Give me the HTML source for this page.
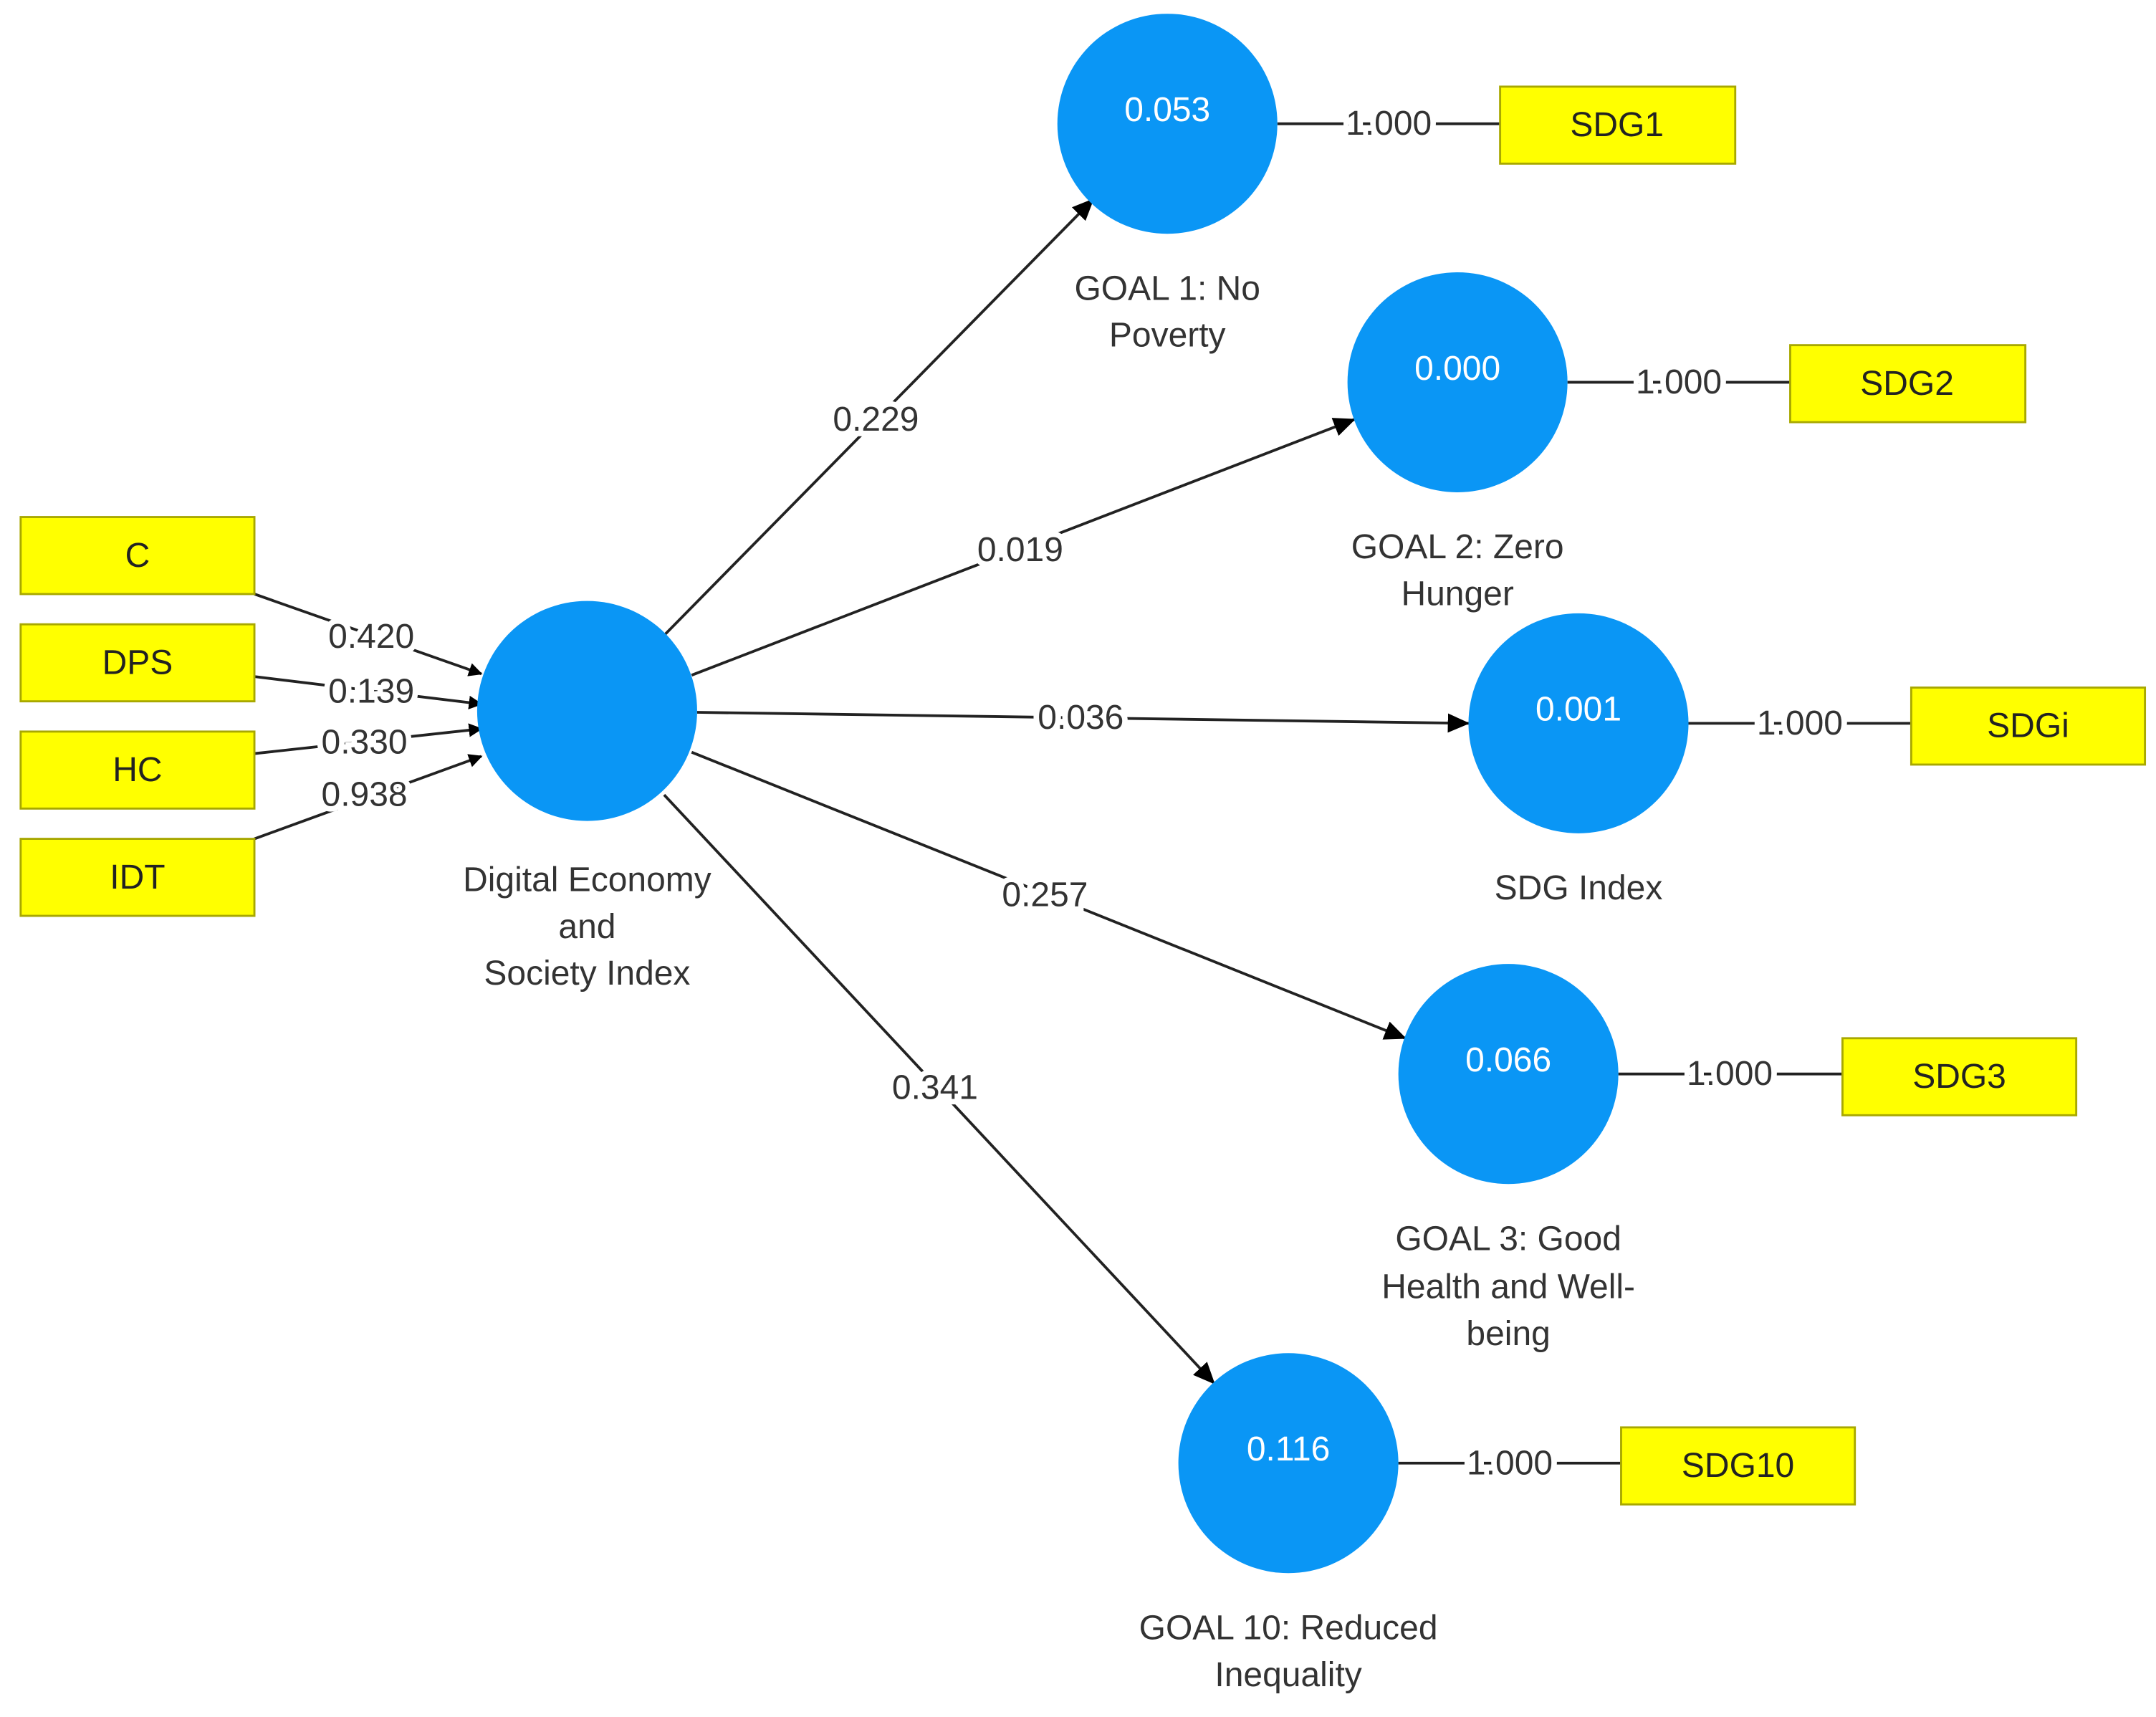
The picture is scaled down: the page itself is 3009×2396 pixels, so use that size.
<!DOCTYPE html>
<html><head><meta charset="utf-8"><style>
html,body{margin:0;padding:0;background:#fff;}
svg{display:block;}
text{font-family:"Liberation Sans",sans-serif;}
</style></head><body>
<svg width="3009" height="2396" viewBox="0 0 1568 1248.6" xmlns="http://www.w3.org/2000/svg">
<defs>
<marker id="a" markerWidth="10" markerHeight="10" refX="9" refY="5" orient="auto" markerUnits="userSpaceOnUse"><path d="M0,0 L10,5 L0,10 z" fill="#000"/></marker>
<marker id="b" markerWidth="16" markerHeight="14" refX="15" refY="7" orient="auto" markerUnits="userSpaceOnUse"><path d="M0,0 L16,7 L0,14 z" fill="#000"/></marker>
</defs>
<rect width="1568" height="1249" fill="#fff"/>
<g stroke="#222" stroke-width="2" fill="none">
<line x1="185" y1="432" x2="350" y2="490" marker-end="url(#a)"/>
<line x1="185" y1="492" x2="350" y2="512" marker-end="url(#a)"/>
<line x1="185" y1="548" x2="350" y2="530" marker-end="url(#a)"/>
<line x1="185" y1="610" x2="350" y2="550" marker-end="url(#a)"/>
<line x1="483" y1="462" x2="795" y2="145" marker-end="url(#b)"/>
<line x1="503" y1="491" x2="985" y2="305" marker-end="url(#b)"/>
<line x1="507" y1="518" x2="1068" y2="526" marker-end="url(#b)"/>
<line x1="503" y1="547" x2="1022" y2="755" marker-end="url(#b)"/>
<line x1="483" y1="578" x2="883" y2="1006" marker-end="url(#b)"/>
<line x1="929" y1="90" x2="1091" y2="90"/>
<line x1="1140" y1="278" x2="1302" y2="278"/>
<line x1="1228" y1="526" x2="1390" y2="526"/>
<line x1="1177" y1="781" x2="1340" y2="781"/>
<line x1="1017" y1="1064" x2="1179" y2="1064"/>
</g>
<g fill="#FFFF00" stroke="#a8a800" stroke-width="1.5">
<rect x="15" y="376" width="170" height="56"/>
<rect x="15" y="454" width="170" height="56"/>
<rect x="15" y="532" width="170" height="56"/>
<rect x="15" y="610" width="170" height="56"/>
<rect x="1091" y="63" width="171" height="56"/>
<rect x="1302" y="251" width="171" height="56"/>
<rect x="1390" y="500" width="170" height="56"/>
<rect x="1340" y="755" width="170" height="56"/>
<rect x="1179" y="1038" width="170" height="56"/>
</g>
<g font-size="25" fill="#222" text-anchor="middle" dominant-baseline="central">
<text x="100" y="404">C</text><text x="100" y="482">DPS</text><text x="100" y="560">HC</text><text x="100" y="638">IDT</text>
<text x="1176" y="91">SDG1</text><text x="1387" y="279">SDG2</text><text x="1475" y="528">SDGi</text><text x="1425" y="783">SDG3</text><text x="1264" y="1066">SDG10</text>
</g>
<g fill="#0A96F5">
<circle cx="427" cy="517" r="80"/><circle cx="849" cy="90" r="80"/><circle cx="1060" cy="278" r="80"/>
<circle cx="1148" cy="526" r="80"/><circle cx="1097" cy="781" r="80"/><circle cx="937" cy="1064" r="80"/>
</g>
<g font-size="25" fill="#fff" text-anchor="middle" dominant-baseline="central">
<text x="849" y="80">0.053</text><text x="1060" y="268">0.000</text><text x="1148" y="516">0.001</text>
<text x="1097" y="771">0.066</text><text x="937" y="1054">0.116</text>
</g>
<g font-size="25" fill="#333" text-anchor="middle" dominant-baseline="central" stroke="#fff" stroke-width="8" paint-order="stroke">
<text x="270" y="463">0.420</text><text x="270" y="503">0.139</text><text x="265" y="540">0.330</text><text x="265" y="578">0.938</text>
<text x="637" y="305">0.229</text><text x="742" y="400">0.019</text><text x="786" y="522">0.036</text><text x="760" y="651">0.257</text><text x="680" y="791">0.341</text>
<text x="1010" y="90">1.000</text><text x="1221" y="278">1.000</text><text x="1309" y="526">1.000</text><text x="1258" y="781">1.000</text><text x="1098" y="1064">1.000</text>
</g>
<g font-size="25" fill="#333" text-anchor="middle" dominant-baseline="central">
<text x="427" y="640">Digital Economy</text><text x="427" y="674">and</text><text x="427" y="708">Society Index</text>
<text x="849" y="210">GOAL 1: No</text><text x="849" y="244">Poverty</text>
<text x="1060" y="398">GOAL 2: Zero</text><text x="1060" y="432">Hunger</text>
<text x="1148" y="646">SDG Index</text>
<text x="1097" y="901">GOAL 3: Good</text><text x="1097" y="936">Health and Well-</text><text x="1097" y="970">being</text>
<text x="937" y="1184">GOAL 10: Reduced</text><text x="937" y="1218">Inequality</text>
</g>
</svg>
</body></html>
